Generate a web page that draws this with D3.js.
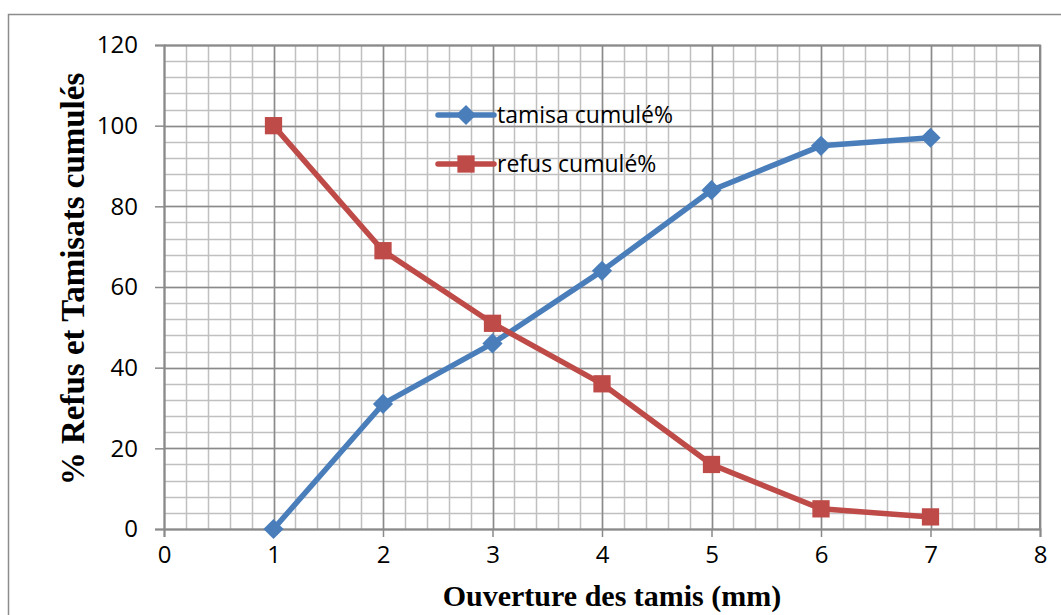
<!DOCTYPE html>
<html>
<head>
<meta charset="utf-8">
<script src="https://cdn.jsdelivr.net/npm/d3@7"></script>
<style>
  body { margin: 0; background: #fff; }
  svg text { font-family: "Open Sans", "Noto Sans", sans-serif; }
</style>
</head>
<body>
<div id="chart"></div>
<script>
// sieve openings (mm)
const openings = [1, 2, 3, 4, 5, 6, 7];
// cumulative passing / retained (%)
const tamisaCumule = [0, 31, 46, 64, 84, 95, 97];
const refusCumule = [100, 69, 51, 36, 16, 5, 3];
const seriesNames = ["tamisa cumulé%", "refus cumulé%"];
const xTicks = [0, 1, 2, 3, 4, 5, 6, 7, 8];
const yTicks = [0, 20, 40, 60, 80, 100, 120];

const W = 1061, H = 615;
const margin = { top: 45, right: 21, bottom: 86, left: 164 };
const innerW = W - margin.left - margin.right;
const innerH = H - margin.top - margin.bottom;

const svg = d3.select("#chart").append("svg")
  .attr("width", W)
  .attr("height", H);

// outer chart frame
svg.append("rect")
  .attr("x", 8.5).attr("y", 14.5)
  .attr("width", W + 10).attr("height", H + 10)
  .attr("fill", "none")
  .attr("stroke", "#8c8c8c")
  .attr("stroke-width", 1.5);

const x = d3.scaleLinear().domain([0, 8]).range([0, innerW]);
const y = d3.scaleLinear().domain([0, 120]).range([innerH, 0]);

const g = svg.append("g")
  .attr("transform", "translate(" + margin.left + "," + margin.top + ")");

/** grid: minor every 0.2 on x, every 4 on y */
const xMinor = d3.range(0, 8.0001, 0.2);
const yMinor = d3.range(0, 120.0001, 4);

g.append("g").selectAll("line")
  .data(xMinor)
  .join("line")
  .attr("x1", d => Math.round(x(d)) + 0.5).attr("x2", d => Math.round(x(d)) + 0.5)
  .attr("y1", 0).attr("y2", innerH)
  .attr("stroke", "#c0c0c0").attr("stroke-width", 1.5);

g.append("g").selectAll("line")
  .data(yMinor)
  .join("line")
  .attr("y1", d => Math.round(y(d)) + 0.5).attr("y2", d => Math.round(y(d)) + 0.5)
  .attr("x1", 0).attr("x2", innerW)
  .attr("stroke", "#c0c0c0").attr("stroke-width", 1.5);

// major grid
g.append("g").selectAll("line")
  .data(xTicks)
  .join("line")
  .attr("x1", d => Math.round(x(d)) + 0.5).attr("x2", d => Math.round(x(d)) + 0.5)
  .attr("y1", 0).attr("y2", innerH)
  .attr("stroke", "#8a8a8a").attr("stroke-width", 1.5);

g.append("g").selectAll("line")
  .data(yTicks)
  .join("line")
  .attr("y1", d => Math.round(y(d)) + 0.5).attr("y2", d => Math.round(y(d)) + 0.5)
  .attr("x1", 0).attr("x2", innerW)
  .attr("stroke", "#8a8a8a").attr("stroke-width", 1.5);

/** axes */
const xAxis = d3.axisBottom(x).tickValues(xTicks).tickSize(8).tickPadding(9).tickFormat(d3.format("d"));
const yAxis = d3.axisLeft(y).tickValues(yTicks).tickSize(9).tickPadding(17).tickFormat(d3.format("d"));

g.append("g")
  .attr("transform", "translate(0," + innerH + ")")
  .call(xAxis)
  .call(s => s.select(".domain").attr("stroke", "#8a8a8a").attr("stroke-width", 2))
  .call(s => s.selectAll(".tick line").attr("stroke", "#8a8a8a").attr("stroke-width", 1.5))
  .call(s => s.selectAll(".tick text").attr("fill", "#000")
    .style("font-size", "24px")
    .style("font-family", "'Open Sans', sans-serif"));

g.append("g")
  .call(yAxis)
  .call(s => s.select(".domain").attr("stroke", "#8a8a8a").attr("stroke-width", 2))
  .call(s => s.selectAll(".tick line").attr("stroke", "#8a8a8a").attr("stroke-width", 1.5))
  .call(s => s.selectAll(".tick text").attr("fill", "#000")
    .style("font-size", "24px")
    .style("font-family", "'Open Sans', sans-serif"));

// plot border on top/right
g.append("path")
  .attr("d", "M0,0.5H" + innerW + "V" + innerH)
  .attr("fill", "none").attr("stroke", "#8a8a8a").attr("stroke-width", 2);

/** axis titles */
svg.append("text")
  .attr("x", 612)
  .attr("y", 606)
  .attr("text-anchor", "middle")
  .style("font-family", "'Liberation Serif', serif")
  .style("font-weight", "bold")
  .style("font-size", "30px")
  .text("Ouverture des tamis (mm)");

svg.append("text")
  .attr("transform", "translate(84,279) rotate(-90)")
  .attr("text-anchor", "middle")
  .style("font-family", "'Liberation Serif', serif")
  .style("font-weight", "bold")
  .style("font-size", "33px")
  .text("% Refus et Tamisats cumulés");

/** series */
const series = [
  { name: seriesNames[0], values: tamisaCumule, color: "#4a7ebb", symbol: d3.symbolDiamond2, size: 260 },
  { name: seriesNames[1], values: refusCumule, color: "#be4b48", symbol: d3.symbolSquare2, size: 380 }
];

const line = d3.line()
  .x((d, i) => x(openings[i]))
  .y(d => y(d));

series.forEach(s => {
  g.append("path")
    .datum(s.values)
    .attr("d", line)
    .attr("fill", "none")
    .attr("stroke", s.color)
    .attr("stroke-width", 5.5)
    .attr("stroke-linejoin", "round");

  g.append("g").selectAll("path")
    .data(s.values)
    .join("path")
    .attr("transform", (d, i) => "translate(" + x(openings[i]) + "," + y(d) + ")")
    .attr("d", d3.symbol().type(s.symbol).size(s.size))
    .attr("fill", s.color);
});

/** legend */
const legend = svg.append("g").attr("transform", "translate(438,0)");
const legendY = [115, 164];
series.forEach((s, i) => {
  legend.append("line")
    .attr("x1", 0).attr("x2", 56)
    .attr("y1", legendY[i]).attr("y2", legendY[i])
    .attr("stroke", s.color).attr("stroke-width", 5.5)
    .attr("stroke-linecap", "round");
  legend.append("path")
    .attr("transform", "translate(28," + legendY[i] + ")")
    .attr("d", d3.symbol().type(s.symbol).size(s.size))
    .attr("fill", s.color);
  legend.append("text")
    .attr("x", 59).attr("y", legendY[i])
    .attr("dy", "0.35em")
    .style("font-size", "23px")
    .style("font-family", "'Open Sans', sans-serif")
    .text(s.name);
});
</script>
</body>
</html>
